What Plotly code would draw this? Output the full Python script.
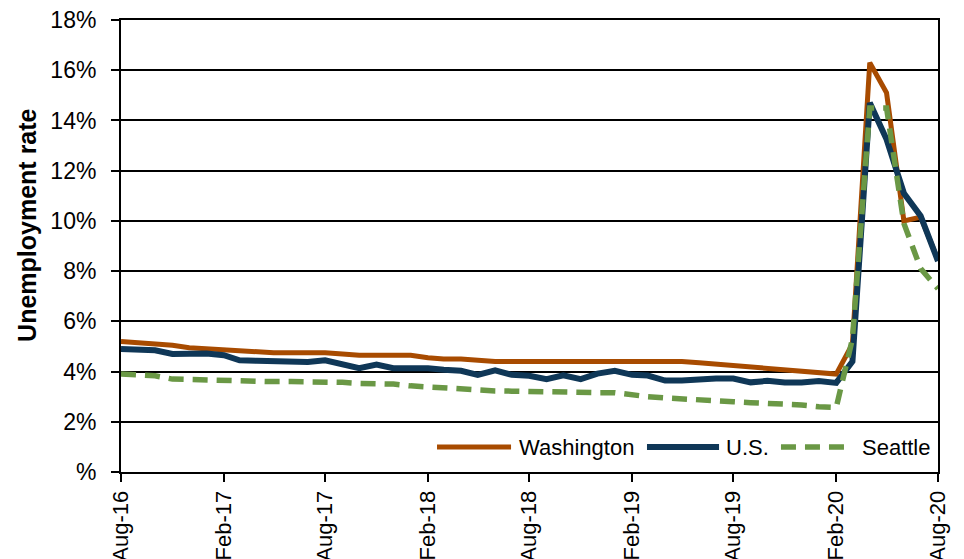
import pandas as pd
import plotly.graph_objects as go

# ---------------- data ----------------
months = pd.date_range("2016-08-01", "2020-08-01", freq="MS")

washington = [5.2, 5.15, 5.1, 5.05, 4.95, 4.9, 4.85, 4.8, 4.75, 4.75, 4.75, 4.75, 4.75,
              4.7, 4.65, 4.65, 4.65, 4.65, 4.55, 4.5, 4.5, 4.45, 4.4, 4.4, 4.4, 4.4, 4.4,
              4.45, 4.45, 4.45, 4.45, 4.45, 4.4, 4.4, 4.35, 4.3, 4.25, 4.15, 4.1, 4.05, 4.0,
              3.95, 3.9, 5.1, 16.3, 15.1, 10.0, 10.15, 8.45]

us = [4.9, 4.9, 4.85, 4.7, 4.72, 4.72, 4.65, 4.45, 4.43, 4.42, 4.38, 4.38, 4.45,
      4.3, 4.13, 4.28, 4.13, 4.13, 4.13, 4.07, 4.03, 3.87, 4.05, 3.87, 3.83, 3.7, 3.85,
      3.7, 3.92, 4.03, 3.87, 3.84, 3.64, 3.64, 3.7, 3.72, 3.72, 3.57, 3.63, 3.56, 3.56,
      3.62, 3.55, 4.4, 14.7, 13.25, 11.1, 10.2, 8.4]

seattle = [3.9, 3.85, 3.83, 3.7, 3.68, 3.67, 3.63, 3.6, 3.6, 3.6, 3.6, 3.6, 3.6,
           3.57, 3.53, 3.52, 3.5, 3.43, 3.38, 3.37, 3.3, 3.27, 3.23, 3.22, 3.2, 3.17, 3.17,
           3.16, 3.16, 3.16, 3.05, 3.0, 2.95, 2.9, 2.88, 2.84, 2.8, 2.76, 2.73, 2.72, 2.67,
           2.6, 2.57, 5.3, 14.5, 14.5, 9.9, 8.1, 7.3]

series_names = ["Washington", "U.S.", "Seattle"]
y_tick_vals = [0, 2, 4, 6, 8, 10, 12, 14, 16, 18]
y_tick_text = ["%", "2%", "4%", "6%", "8%", "10%", "12%", "14%", "16%", "18%"]
x_tick_vals = pd.date_range("2016-08-01", "2020-08-01", freq="6MS")

# ---------------- styles ----------------
C_WA = "#A84B00"
C_US = "#0F3757"
C_SEA = "#6A9845"
FONT = "Liberation Sans, Arial, sans-serif"
SEA_DASH = "15px,9px"
W_WA, W_US, W_SEA = 5, 6, 5.5

fig = go.Figure()
fig.add_trace(go.Scatter(x=months, y=washington, name=series_names[0], mode="lines",
                         line=dict(color=C_WA, width=W_WA)))
fig.add_trace(go.Scatter(x=months, y=us, name=series_names[1], mode="lines",
                         line=dict(color=C_US, width=W_US)))
fig.add_trace(go.Scatter(x=months, y=seattle, name=series_names[2], mode="lines",
                         line=dict(color=C_SEA, width=W_SEA, dash=SEA_DASH)))

fig.update_layout(
    width=964, height=559,
    margin=dict(l=121, r=26, t=20, b=87, autoexpand=False),
    plot_bgcolor="white", paper_bgcolor="white",
    showlegend=False,
    font=dict(family=FONT, size=22, color="black"),
)

fig.update_yaxes(
    range=[0, 18], tickvals=y_tick_vals, ticktext=y_tick_text,
    tickfont=dict(size=23),
    showgrid=True, gridcolor="black", gridwidth=1.5,
    showline=True, linecolor="black", linewidth=2, mirror=True,
    ticks="outside", ticklen=8, tickwidth=1.5, tickcolor="black",
    ticklabelstandoff=10, zeroline=False,
)
fig.update_xaxes(
    type="date", range=[months[0], months[-1]],
    tickvals=x_tick_vals, tickformat="%b-%y", tickangle=-90,
    showgrid=False, showline=True, linecolor="black", linewidth=2, mirror=True,
    ticks="outside", ticklen=8, tickwidth=1.5, tickcolor="black", zeroline=False,
)

# y-axis title
fig.add_annotation(text="<b>Unemployment rate</b>", textangle=-90,
                   xref="paper", yref="paper", x=-0.116, y=0.545,
                   xanchor="center", yanchor="middle", showarrow=False,
                   font=dict(family=FONT, size=25, color="black"))

# legend (drawn inside plot, bottom right)
leg_y = 0.0553
legend_items = [
    (series_names[0], C_WA, W_WA, "solid", 0.3868, 0.4774, 0.4847),
    (series_names[1], C_US, W_US, "solid", 0.6438, 0.7320, 0.7381),
    (series_names[2], C_SEA, W_SEA, SEA_DASH, 0.8078, 0.8886, 0.9045),
]
for name, col, w, dash, x0, x1, xt in legend_items:
    fig.add_shape(type="line", xref="paper", yref="paper", x0=x0, x1=x1, y0=leg_y, y1=leg_y,
                  line=dict(color=col, width=w, dash=dash))
    fig.add_annotation(text=name, xref="paper", yref="paper", x=xt, y=leg_y,
                       xanchor="left", yanchor="middle", showarrow=False,
                       font=dict(family=FONT, size=22, color="black"))

fig.write_html("out.html", config={"displayModeBar": False},
               post_script="document.body.style.margin='0';")
